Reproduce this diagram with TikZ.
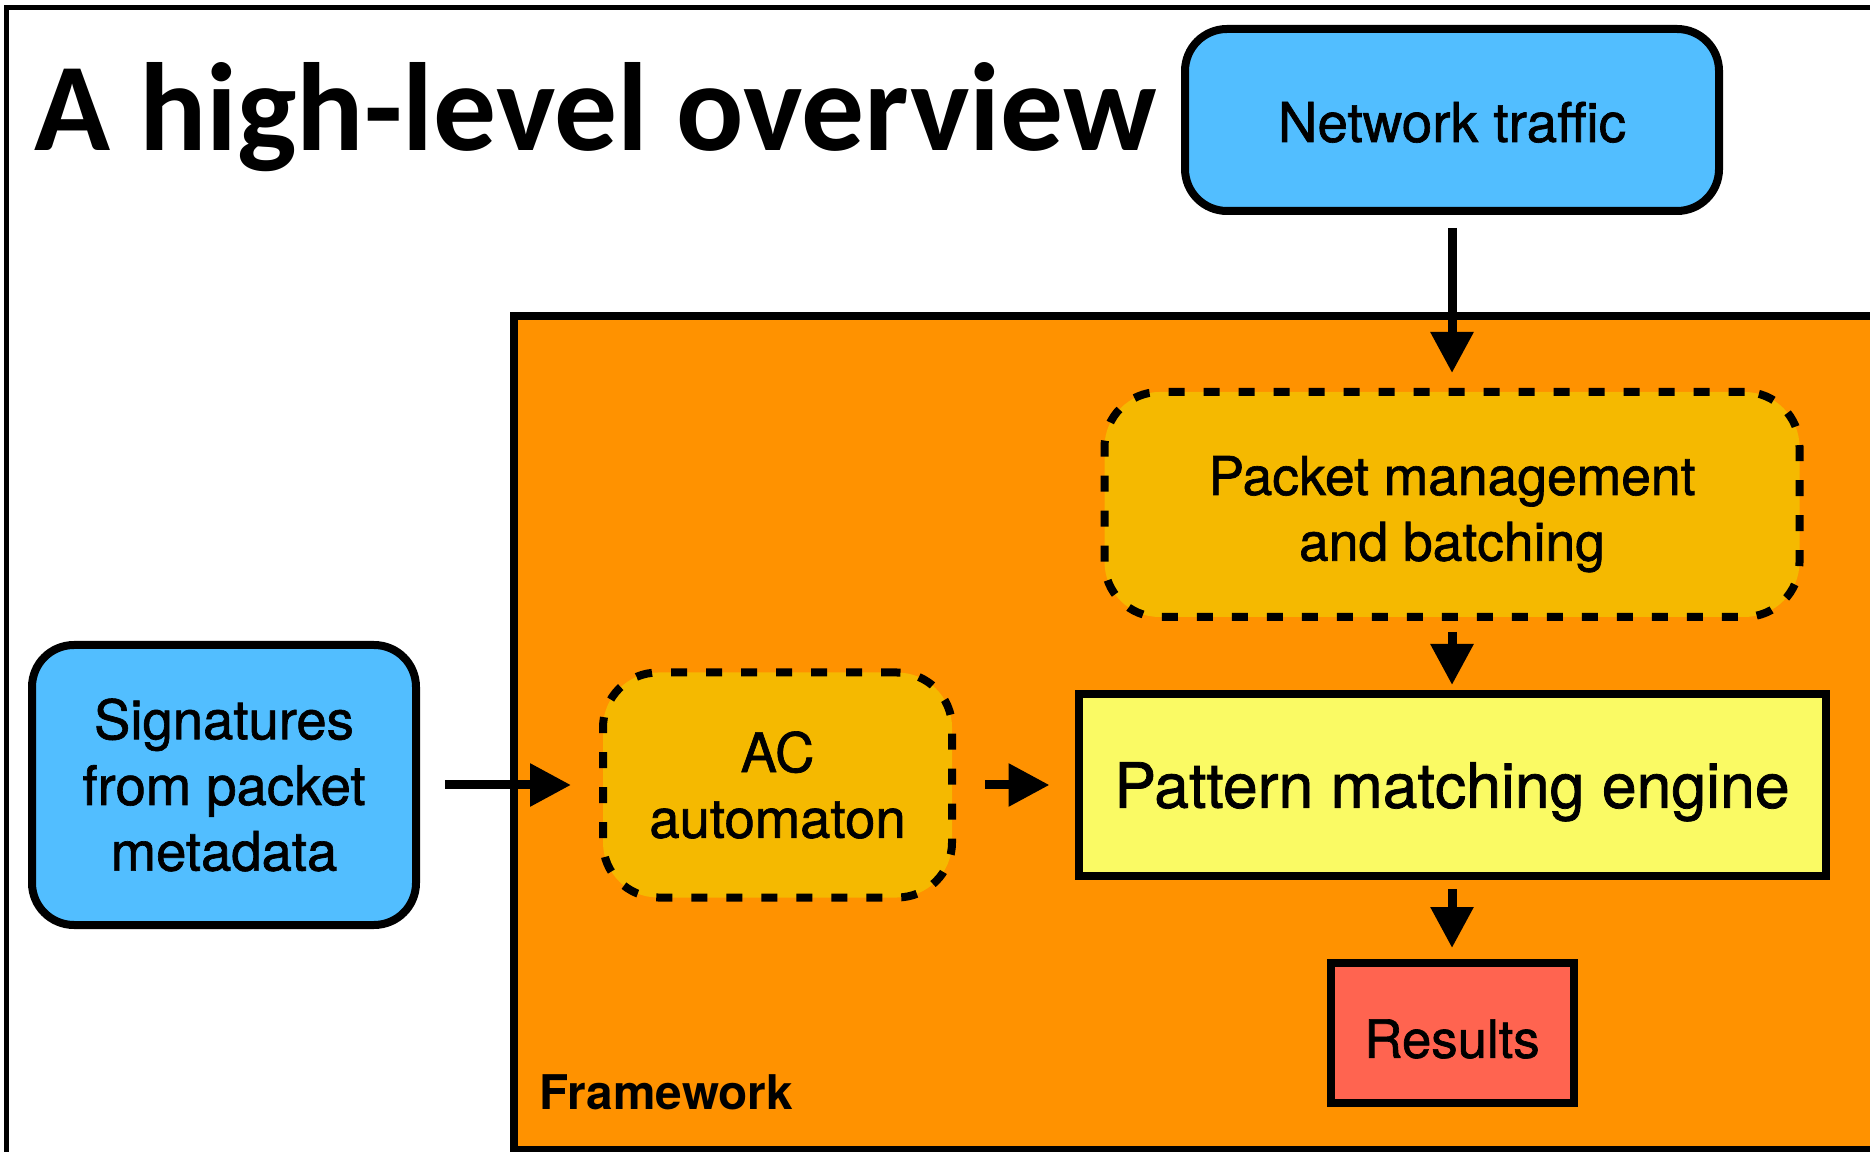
\documentclass[tikz,border=0pt]{standalone}
\usepackage{fontspec}
\setmainfont{TeX Gyre Heros}
\newfontfamily\boxfont[FakeBold=1.2]{TeX Gyre Heros}
\newfontfamily\titlefont{Carlito}
\usetikzlibrary{arrows.meta}
\definecolor{ovblue}{HTML}{52BEFF}
\definecolor{ovorange}{HTML}{FF9200}
\definecolor{ovgold}{HTML}{F5B900}
\definecolor{ovyellow}{HTML}{FAFA64}
\definecolor{ovred}{HTML}{FF6450}

\begin{document}
\begin{tikzpicture}[x=0.1mm,y=-0.1mm,
  box/.style={draw,line width=0.8mm,inner sep=0pt,align=center,font=\boxfont\fontsize{15.5}{18.7}\selectfont},
  bluebox/.style={box,rounded corners=4.2mm,fill=ovblue},
  dashbox/.style={box,rounded corners=5.5mm,fill=ovgold,dash pattern=on 1.6mm off 1.9mm},
  flow/.style={line width=0.9mm,-{Triangle[length=4.1mm,width=4.1mm]}}]
\useasboundingbox (0,0) rectangle (1870,1152);
\clip (0,0) rectangle (1870,1152);
\draw[line width=0.5mm] (6,7.5) rectangle (1900,1200);
\draw[line width=0.8mm,fill=ovorange] (514,316) rectangle (1900,1150);
\node[anchor=base west,inner sep=0pt,font={\titlefont\bfseries\fontsize{35.7}{40}\selectfont}] (title) at (34,151) {A high-level overview};
\node[bluebox,minimum width=53.4mm,minimum height=18.2mm,text height=12.5pt,text depth=0pt,font=\boxfont\fontsize{15.6}{18.7}\selectfont] (traffic) at (1452,120) {Network traffic};
\node[dashbox,minimum width=69.5mm,minimum height=22.5mm,font=\boxfont\fontsize{15.2}{18.7}\selectfont] (batch) at (1452,504.5) {\rule{0pt}{16.6pt}Packet management\\and batching};
\node[box,fill=ovyellow,minimum width=74.7mm,minimum height=18.1mm,text depth=0pt,font=\boxfont\fontsize{17.8}{21}\selectfont] (engine) at (1452,785) {Pattern matching engine};
\node[box,fill=ovred,minimum width=24.3mm,minimum height=14mm,text height=14.4pt,text depth=0pt,font=\boxfont\fontsize{15}{18}\selectfont] (results) at (1452,1032.5) {Results};
\node[bluebox,minimum width=38.4mm,minimum height=28mm] (sigs) at (224,785) {Signatures\\from packet\\metadata};
\node[dashbox,minimum width=34.9mm,minimum height=22.5mm] (ac) at (777.5,785) {AC\\automaton};
\node[anchor=base west,inner sep=0pt,font=\bfseries\fontsize{13.6}{16}\selectfont] (fwlabel) at (539,1109) {Framework};
\draw[flow,shorten <=1.3mm,shorten >=1.5mm] (traffic) -- (batch);
\draw[flow,shorten <=1.1mm,shorten >=0.55mm] (batch) -- (engine);
\draw[flow,shorten <=0.95mm,shorten >=1.05mm] (engine) -- (results);
\draw[flow,shorten <=2.5mm,shorten >=2.8mm] (sigs) -- (ac);
\draw[flow,shorten <=2.9mm,shorten >=2.5mm] (ac) -- (engine);
\end{tikzpicture}
\end{document}
